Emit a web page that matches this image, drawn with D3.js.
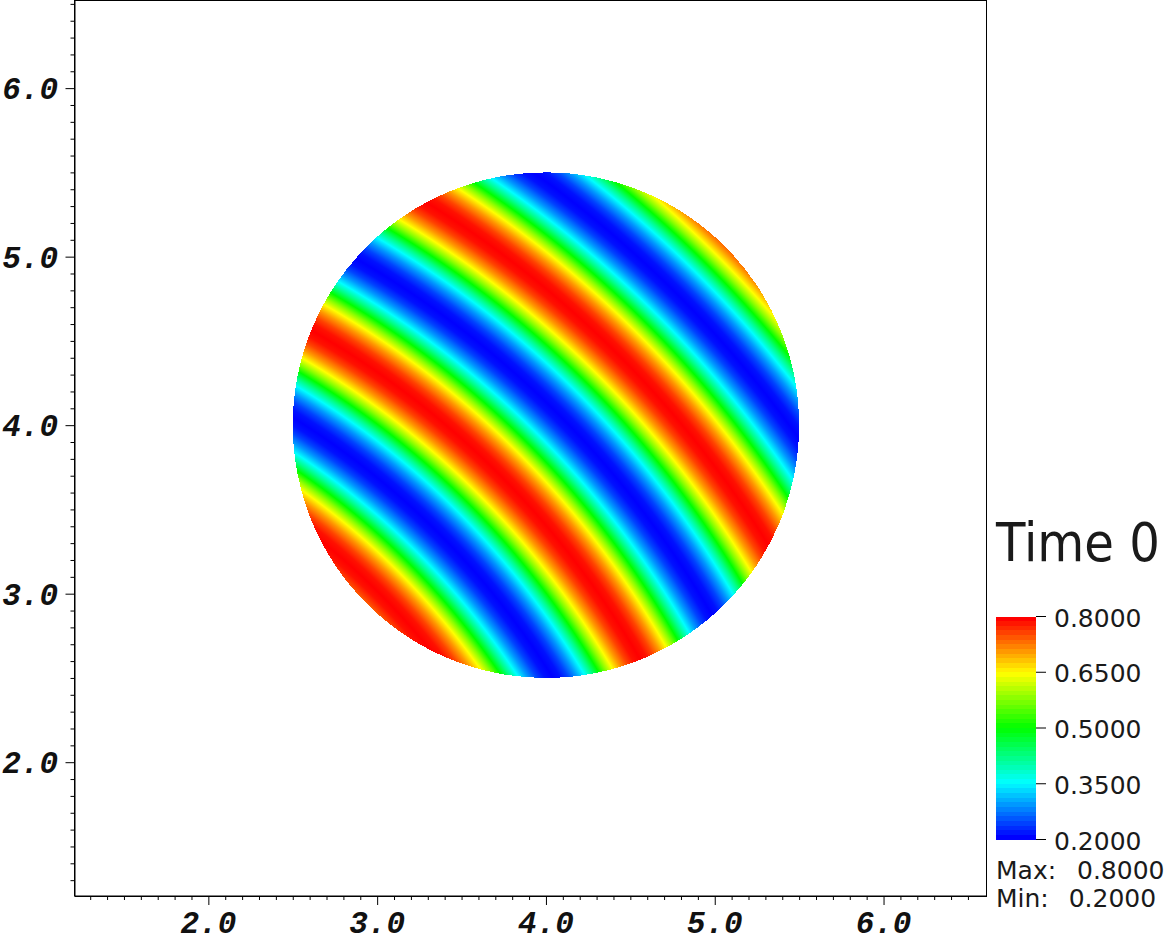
<!DOCTYPE html>
<html>
<head>
<meta charset="utf-8">
<script src="https://cdn.jsdelivr.net/npm/d3@7"></script>
<style>
  html, body { margin: 0; padding: 0; background: #fff; }
  svg { display: block; }
  .tick-label { font-family: "Liberation Mono", monospace; font-weight: bold; font-style: italic; font-size: 31px; fill: #111; }
  .legend-text { font-family: "DejaVu Sans", sans-serif; fill: #1a1a1a; white-space: pre; }
</style>
</head>
<body>
<svg id="chart" width="1165" height="934"></svg>
<script>
// axes
const xDomain = [1.207, 6.61]
const yDomain = [1.206, 6.52]
const xMajor = [2, 3, 4, 5, 6]
const yMajor = [2, 3, 4, 5, 6]

// the disk
const diskCenter = [4, 4]
const diskRadius = 1.5

// stripes are rings round the origin:
// radius of each red crest, then one crest-to-crest profile
const crestRadius = [3.25, 4.25, 5.25, 6.25]
const profileOffset = [0, 0.04, 0.08, 0.125, 0.17, 0.21, 0.25, 0.29, 0.33, 0.375, 0.42, 0.46, 0.5,
    0.54, 0.58, 0.625, 0.67, 0.71, 0.75, 0.79, 0.83, 0.875, 0.92, 0.96]
const profileValue = [0.8, 0.79, 0.76, 0.71, 0.65, 0.58, 0.5, 0.42, 0.35, 0.29, 0.24, 0.21, 0.2,
    0.21, 0.24, 0.29, 0.35, 0.42, 0.5, 0.58, 0.65, 0.71, 0.76, 0.79]

// colour table
const colorValues = [0.2, 0.35, 0.5, 0.65, 0.8]
const colorNames = ["#0000ff", "#00ffff", "#00ff00", "#ffff00", "#ff0000"]

// legend
const legendTicks = [0.8, 0.65, 0.5, 0.35, 0.2]
const legendLevels = 48
const legendMax = 0.8
const legendMin = 0.2

const margin = { left: 74.5, right: 986.5, top: 0.5, bottom: 896 }

const svg = d3.select("#chart")

const xScale = d3.scaleLinear().domain(xDomain).range([margin.left, margin.right])
const yScale = d3.scaleLinear().domain(yDomain).range([margin.bottom, margin.top])
const colorScale = d3.scaleLinear().domain(colorValues).range(colorNames)

// ring gradient
let stops = []
crestRadius.forEach(c => {
    profileOffset.forEach((o, i) => stops.push({ r: c + o, v: profileValue[i] }))
})
const rMax = 7.3
const rScale = d3.scaleLinear().domain([0, rMax]).range([0, 1])

const grad = svg.append("defs").append("radialGradient")
    .attr("id", "rings")
    .attr("gradientUnits", "userSpaceOnUse")
    .attr("cx", xScale(0))
    .attr("cy", yScale(0))
    .attr("r", xScale(rMax) - xScale(0))

grad.selectAll("stop")
    .data(stops)
    .join("stop")
    .attr("offset", d => rScale(d.r))
    .attr("stop-color", d => colorScale(d.v))

svg.append("ellipse")
    .attr("cx", xScale(diskCenter[0]))
    .attr("cy", yScale(diskCenter[1]))
    .attr("rx", xScale(diskCenter[0] + diskRadius) - xScale(diskCenter[0]))
    .attr("ry", yScale(diskCenter[1]) - yScale(diskCenter[1] + diskRadius))
    .attr("fill", "url(#rings)")
    .attr("shape-rendering", "crispEdges")

// axes
const xAxis = d3.axisBottom(xScale).tickValues(d3.range(13, 66).map(d => d / 10)).tickFormat("").tickSize(4).tickSizeOuter(0)
const yAxis = d3.axisLeft(yScale).tickValues(d3.range(13, 66).map(d => d / 10)).tickFormat("").tickSize(4).tickSizeOuter(0)

const xAxisGroup = svg.append("g").attr("transform", `translate(0, ${margin.bottom})`).call(xAxis)
const yAxisGroup = svg.append("g").attr("transform", `translate(${margin.left}, 0)`).call(yAxis)

xAxisGroup.selectAll(".tick line").filter(d => xMajor.includes(d)).attr("y2", 9)
yAxisGroup.selectAll(".tick line").filter(d => yMajor.includes(d)).attr("x2", -9)
svg.selectAll(".domain").attr("stroke", "#000")

svg.append("rect")
    .attr("x", margin.left)
    .attr("y", margin.top)
    .attr("width", margin.right - margin.left)
    .attr("height", margin.bottom - margin.top)
    .attr("fill", "none")
    .attr("stroke", "#000")

svg.selectAll(".x-label")
    .data(xMajor)
    .join("text")
    .attr("class", "tick-label x-label")
    .attr("x", d => xScale(d))
    .attr("y", 933)
    .attr("text-anchor", "middle")
    .text(d => d.toFixed(1))

svg.selectAll(".y-label")
    .data(yMajor)
    .join("text")
    .attr("class", "tick-label y-label")
    .attr("x", 58)
    .attr("y", d => yScale(d) + 11)
    .attr("text-anchor", "end")
    .text(d => d.toFixed(1))

// legend
const barX = 996, barW = 40
const barScale = d3.scaleLinear().domain([legendMin, legendMax]).range([839.5, 616.5])
const bandH = (barScale(legendMin) - barScale(legendMax)) / legendLevels
const levelValue = d3.scaleLinear().domain([0, legendLevels - 1]).range([legendMax, legendMin])

svg.selectAll(".band")
    .data(d3.range(legendLevels))
    .join("rect")
    .attr("class", "band")
    .attr("x", barX)
    .attr("width", barW)
    .attr("y", d => barScale(legendMax) + d * bandH)
    .attr("height", bandH + 0.5)
    .attr("fill", d => colorScale(levelValue(d)))
    .attr("shape-rendering", "crispEdges")

svg.selectAll(".legend-tick")
    .data(legendTicks)
    .join("line")
    .attr("class", "legend-tick")
    .attr("x1", barX + barW)
    .attr("x2", barX + barW + 10)
    .attr("y1", d => barScale(d))
    .attr("y2", d => barScale(d))
    .attr("stroke", "#000")

svg.selectAll(".legend-label")
    .data(legendTicks)
    .join("text")
    .attr("class", "legend-text legend-label")
    .attr("x", 1054)
    .attr("y", d => barScale(d) + 10)
    .attr("font-size", 25)
    .text(d => d.toFixed(4))

svg.append("text").attr("class", "legend-text")
    .attr("transform", "translate(996, 560.5) scale(0.91, 1)")
    .attr("font-size", 53).text("Time 0")
svg.append("text").attr("class", "legend-text")
    .attr("x", 996).attr("y", 879).attr("font-size", 25).attr("word-spacing", 2.5).text(`Max:  ${legendMax.toFixed(4)}`)
svg.append("text").attr("class", "legend-text")
    .attr("x", 996).attr("y", 907).attr("font-size", 25).attr("word-spacing", 2).text(`Min:  ${legendMin.toFixed(4)}`)
</script>
</body>
</html>
